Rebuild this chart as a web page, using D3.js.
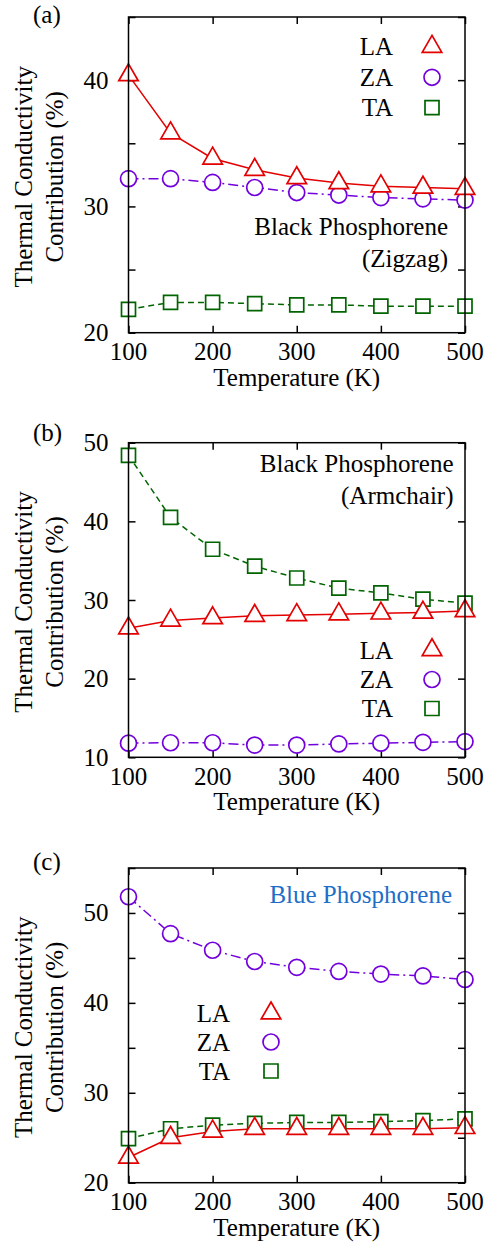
<!DOCTYPE html>
<html>
<head>
<meta charset="utf-8">
<script src="https://cdn.jsdelivr.net/npm/d3@7"></script>
<style>
  body { margin: 0; background: #fff; }
  svg text { font-family: "Liberation Serif", "Times New Roman", serif; font-size: 25px; fill: #000; }
</style>
</head>
<body>
<div id="chart"></div>
<script>
// temperatures (K)
const temps = [100, 150, 200, 250, 300, 350, 400, 450, 500];
const xTicks = [100, 200, 300, 400, 500];

// (a) black phosphorene, zigzag
const zigzagLA = [40.4, 35.8, 33.8, 32.9, 32.25, 31.85, 31.6, 31.5, 31.4];
const zigzagZA = [32.2, 32.2, 31.9, 31.5, 31.1, 30.9, 30.7, 30.6, 30.5];
const zigzagTA = [21.85, 22.4, 22.4, 22.3, 22.2, 22.2, 22.1, 22.1, 22.1];

// (b) black phosphorene, armchair
const armchairLA = [26.4, 27.4, 27.7, 28.0, 28.1, 28.2, 28.3, 28.4, 28.6];
const armchairZA = [11.8, 11.85, 11.85, 11.55, 11.55, 11.7, 11.8, 11.9, 12.0];
const armchairTA = [48.4, 40.5, 36.45, 34.3, 32.8, 31.5, 30.9, 30.1, 29.6];

// (c) blue phosphorene
const blueLA = [22.8, 25.0, 25.7, 26.0, 26.0, 26.0, 26.0, 26.0, 26.1];
const blueZA = [51.8, 47.7, 45.85, 44.6, 43.95, 43.5, 43.2, 43.0, 42.6];
const blueTA = [24.9, 26.0, 26.4, 26.6, 26.7, 26.7, 26.8, 26.9, 27.1];

// y ticks / labels for each panel
const yTicksA = [20, 25, 30, 35, 40, 45];
const yLabelsA = [20, 30, 40];
const yTicksB = [10, 20, 30, 40, 50];
const yLabelsB = [10, 20, 30, 40, 50];
const yTicksC = [20, 25, 30, 35, 40, 45, 50, 55];
const yLabelsC = [20, 30, 40, 50];

const modes = ['LA', 'ZA', 'TA'];

const w = 486;
const h = 1247;
const left = 128.5;
const right = 465;

const style = {
  LA: { color: '#e30000', dash: null, symbol: d3.symbolTriangle, size: 165 },
  ZA: { color: '#7200dc', dash: '10,4,2,4', symbol: d3.symbolCircle, size: 201 },
  TA: { color: '#006400', dash: '6,4', symbol: d3.symbolSquare, size: 196 }
};

const panels = [
  { tag: '(a)', top: 17, bottom: 332.7, domain: [20, 45], ticks: yTicksA, labels: yLabelsA,
    series: { LA: zigzagLA, ZA: zigzagZA, TA: zigzagTA },
    legend: { x: 393, mx: 432, y: [46.7, 77.3, 107.7] },
    note: ['Black Phosphorene', '(Zigzag)'], noteX: 448, noteY: [235, 267], noteColor: '#000',
    tagY: 23 },
  { tag: '(b)', top: 442.7, bottom: 757.3, domain: [10, 50], ticks: yTicksB, labels: yLabelsB,
    series: { LA: armchairLA, ZA: armchairZA, TA: armchairTA },
    legend: { x: 393, mx: 432, y: [650, 679.5, 708.5] },
    note: ['Black Phosphorene', '(Armchair)'], noteX: 453.5, noteY: [472, 504], noteColor: '#000',
    tagY: 441 },
  { tag: '(c)', top: 868, bottom: 1182.7, domain: [20, 55], ticks: yTicksC, labels: yLabelsC,
    series: { LA: blueLA, ZA: blueZA, TA: blueTA },
    legend: { x: 230, mx: 271, y: [1013.3, 1042, 1071] },
    note: ['Blue Phosphorene'], noteX: 452, noteY: [903], noteColor: '#1e6ec8',
    tagY: 870 }
];

const svg = d3.select('#chart')
  .append('svg')
  .attr('width', w)
  .attr('height', h);

const xScale = d3.scaleLinear()
  .domain([100, 500])
  .range([left, right]);

panels.forEach(p => {
  const yScale = d3.scaleLinear()
    .domain(p.domain)
    .range([p.bottom, p.top]);

  const g = svg.append('g');

  // ticks on all four sides, pointing inward
  const axes = [
    [d3.axisBottom(xScale).tickValues(xTicks).tickSizeInner(-7).tickSizeOuter(0).tickFormat(''), `translate(0,${p.bottom})`],
    [d3.axisTop(xScale).tickValues(xTicks).tickSizeInner(-7).tickSizeOuter(0).tickFormat(''), `translate(0,${p.top})`],
    [d3.axisLeft(yScale).tickValues(p.ticks).tickSizeInner(-7).tickSizeOuter(0).tickFormat(''), `translate(${left},0)`],
    [d3.axisRight(yScale).tickValues(p.ticks).tickSizeInner(-7).tickSizeOuter(0).tickFormat(''), `translate(${right},0)`]
  ];
  axes.forEach(([ax, tr]) => {
    const a = g.append('g').attr('transform', tr).call(ax);
    a.select('.domain').remove();
    a.selectAll('line').attr('stroke', '#000').attr('stroke-width', 1.5);
  });

  // tick labels
  g.selectAll('.xlab')
    .data(xTicks)
    .enter()
    .append('text')
    .attr('x', d => xScale(d))
    .attr('y', p.bottom + 27.5)
    .attr('text-anchor', 'middle')
    .text(d => d);

  g.selectAll('.ylab')
    .data(p.labels)
    .enter()
    .append('text')
    .attr('x', 108.5)
    .attr('y', d => yScale(d))
    .attr('dy', '0.34em')
    .attr('text-anchor', 'end')
    .text(d => d);

  // lines
  const line = d3.line()
    .x((d, i) => xScale(temps[i]))
    .y(d => yScale(d));

  modes.forEach(m => {
    g.append('path')
      .datum(p.series[m])
      .attr('d', line)
      .attr('fill', 'none')
      .attr('stroke', style[m].color)
      .attr('stroke-width', 1.5)
      .attr('stroke-dasharray', style[m].dash);
  });

  // markers (LA drawn last, on top)
  ['TA', 'ZA', 'LA'].forEach(m => {
    g.selectAll('.pt-' + m)
      .data(p.series[m])
      .enter()
      .append('path')
      .attr('d', d3.symbol().type(style[m].symbol).size(style[m].size))
      .attr('transform', (d, i) => `translate(${xScale(temps[i])},${yScale(d)})`)
      .attr('fill', '#fff')
      .attr('stroke', style[m].color)
      .attr('stroke-width', 1.7);
  });

  // frame
  g.append('rect')
    .attr('x', left)
    .attr('y', p.top)
    .attr('width', right - left)
    .attr('height', p.bottom - p.top)
    .attr('fill', 'none')
    .attr('stroke', '#000')
    .attr('stroke-width', 1.5);

  // legend
  modes.forEach((m, i) => {
    g.append('text')
      .attr('x', p.legend.x)
      .attr('y', p.legend.y[i])
      .attr('dy', '0.34em')
      .attr('text-anchor', 'end')
      .text(m);
    g.append('path')
      .attr('d', d3.symbol().type(style[m].symbol).size(style[m].size))
      .attr('transform', `translate(${p.legend.mx},${p.legend.y[i]})`)
      .attr('fill', '#fff')
      .attr('stroke', style[m].color)
      .attr('stroke-width', 1.7);
  });

  // material label
  p.note.forEach((t, i) => {
    g.append('text')
      .attr('x', p.noteX)
      .attr('y', p.noteY[i])
      .attr('text-anchor', 'end')
      .style('fill', p.noteColor)
      .text(t);
  });

  // panel tag
  g.append('text')
    .attr('x', 33)
    .attr('y', p.tagY)
    .text(p.tag);

  // axis labels
  g.append('text')
    .attr('x', (left + right) / 2)
    .attr('y', p.bottom + 53)
    .attr('text-anchor', 'middle')
    .text('Temperature (K)');

  const cy = (p.top + p.bottom) / 2 + 2;
  g.append('text')
    .attr('transform', `translate(32,${cy}) rotate(-90)`)
    .attr('text-anchor', 'middle')
    .text('Thermal Conductivity');
  g.append('text')
    .attr('transform', `translate(63,${cy}) rotate(-90)`)
    .attr('text-anchor', 'middle')
    .text('Contribution (%)');
});
</script>
</body>
</html>
